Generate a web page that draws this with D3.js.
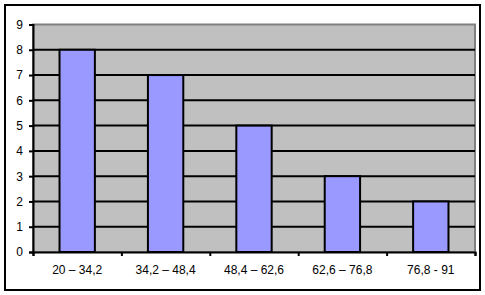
<!DOCTYPE html>
<html>
<head>
  <meta charset="utf-8">
  <script src="https://d3js.org/d3.v7.min.js"></script>
  <style>
    body { margin: 0; background: #fff; }
    text { font-family: "Liberation Sans", Arial, sans-serif; font-size: 12px; fill: #000; }
  </style>
</head>
<body>
<script>
  // chart data
  var categories = ["20 \u2013 34,2", "34,2 \u2013 48,4", "48,4 \u2013 62,6", "62,6 \u2013 76,8", "76,8 - 91"]
  var counts = [8, 7, 5, 3, 2]
  var yTicks = [0, 1, 2, 3, 4, 5, 6, 7, 8, 9]

  var svg = d3.select("body").append("svg")
      .attr("width", 485).attr("height", 295)

  // outer frame
  svg.append("rect")
      .attr("x", 5).attr("y", 5).attr("width", 475).attr("height", 285)
      .attr("fill", "#fff").attr("stroke", "#000").attr("stroke-width", 2)

  var plot = {left: 33, top: 24.5, right: 475, bottom: 252}

  var x = d3.scaleBand()
      .domain(categories)
      .range([plot.left, plot.right])
      .paddingInner(0.6).paddingOuter(0.3)

  var xEdge = d3.scaleLinear()
      .domain([0, categories.length])
      .range([plot.left, plot.right])

  var y = d3.scaleLinear()
      .domain([0, 9])
      .range([plot.bottom, plot.top])

  // plot background
  svg.append("rect")
      .attr("x", plot.left).attr("y", plot.top)
      .attr("width", plot.right - plot.left).attr("height", plot.bottom - plot.top)
      .attr("fill", "#c0c0c0")
      .attr("stroke", "#808080").attr("stroke-width", 2)

  // gridlines
  svg.selectAll(".grid").data(yTicks.filter(function(d) { return d > 0 && d < 9 }))
    .enter().append("line")
      .attr("x1", plot.left).attr("x2", plot.right)
      .attr("y1", function(d) { return y(d) }).attr("y2", function(d) { return y(d) })
      .attr("stroke", "#000").attr("stroke-width", 2)

  // bars
  svg.selectAll(".bar").data(counts).enter().append("rect")
      .attr("x", function(d, i) { return x(categories[i]) })
      .attr("y", function(d) { return y(d) })
      .attr("width", x.bandwidth())
      .attr("height", function(d) { return y(0) - y(d) })
      .attr("fill", "#9999ff")
      .attr("stroke", "#000").attr("stroke-width", 2)

  // y axis
  var yAxis = d3.axisLeft(y).tickValues(yTicks).tickSize(4).tickPadding(6)
  var gy = svg.append("g").attr("transform", "translate(" + plot.left + ",0)").call(yAxis)
  gy.select(".domain").attr("stroke", "#000").attr("stroke-width", 2)
  gy.selectAll(".tick line").attr("stroke", "#000").attr("stroke-width", 2)
  gy.selectAll("text").style("font-family", "Liberation Sans, Arial, sans-serif").style("font-size", "12px").attr("fill", "#000")

  // x axis: ticks at category edges
  var xAxis = d3.axisBottom(xEdge).tickValues(d3.range(categories.length + 1)).tickSize(4).tickFormat("")
  var gx = svg.append("g").attr("transform", "translate(0," + plot.bottom + ")").call(xAxis)
  gx.select(".domain").attr("stroke", "#000").attr("stroke-width", 2)
  gx.selectAll(".tick line").attr("stroke", "#000").attr("stroke-width", 2)

  svg.selectAll(".xlab").data(categories).enter().append("text")
      .attr("x", function(d) { return x(d) + x.bandwidth() / 2 })
      .attr("y", 274)
      .attr("text-anchor", "middle")
      .text(function(d) { return d })
</script>
</body>
</html>
